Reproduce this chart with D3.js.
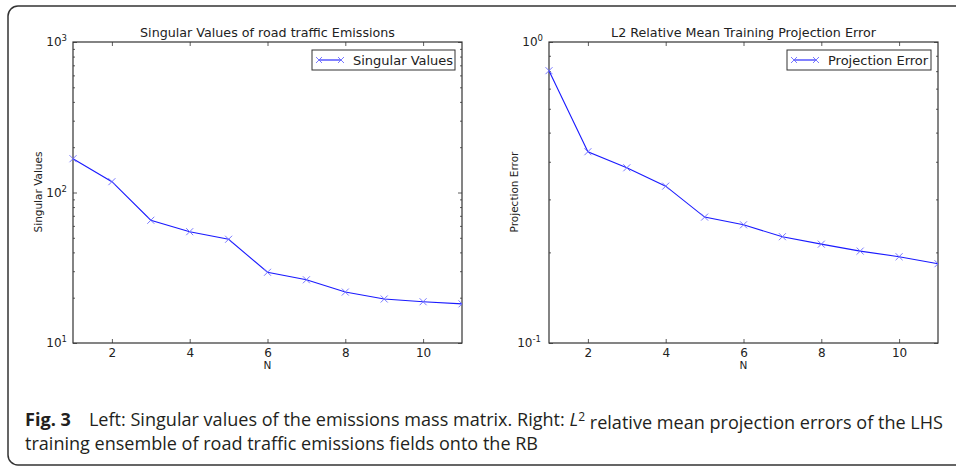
<!DOCTYPE html>
<html>
  <head>
    <script src="https://cdn.jsdelivr.net/npm/d3@7"></script>
    <style>
      body { margin: 0; background: #fff; }
      svg text { font-family: "DejaVu Sans", sans-serif; fill: #222; }
    </style>
  </head>
  <body>
    <script>

    // Data
    var nValues = [1, 2, 3, 4, 5, 6, 7, 8, 9, 10, 11];
    var singularValues = [167.7, 118, 65.4, 54.9, 48.9, 29.5, 26.3, 21.8, 19.6, 18.8, 18.2];
    var projectionError = [0.803, 0.432, 0.382, 0.332, 0.262, 0.247, 0.2255, 0.213, 0.202, 0.1935, 0.1834];
    var xTicks = [2, 4, 6, 8, 10];
    var leftMajor = [10, 100, 1000];
    var rightMajor = [0.1, 1];

    var W = 956, H = 467;
    var svg = d3.select("body").append("svg")
      .attr("width", W)
      .attr("height", H);

    // Outer frame of the figure (runs off the right edge)
    svg.append("rect")
      .attr("x", 8).attr("y", 6)
      .attr("width", 980).attr("height", 459)
      .attr("rx", 10)
      .attr("fill", "none")
      .attr("stroke", "#333")
      .attr("stroke-width", 1.5);

    // 2..9 times each decade
    function minorTicks(domain) {
      var out = [];
      for (var e = Math.round(Math.log10(domain[0])); e < Math.round(Math.log10(domain[1])); e++) {
        for (var k = 2; k <= 9; k++) out.push(k * Math.pow(10, e));
      }
      return out;
    }

    function panel(opt) {
      var x = d3.scaleLinear().domain([1, 11]).range([opt.left, opt.right]);
      var y = d3.scaleLog().domain(opt.domain).range([343, 42]);
      var g = svg.append("g");

      // Axes, ticks pointing inside like matplotlib classic
      g.append("g").attr("transform", "translate(0,343)")
        .call(d3.axisBottom(x).tickValues(xTicks).tickSize(-4).tickPadding(5).tickFormat(d3.format("d")));
      g.append("g").attr("transform", "translate(0,42)")
        .call(d3.axisTop(x).tickValues(xTicks).tickSize(-4).tickFormat(""));

      var leftAx = g.append("g").attr("transform", "translate(" + opt.left + ",0)")
        .call(d3.axisLeft(y).tickValues(opt.major).tickSize(-4).tickFormat(""));
      g.append("g").attr("transform", "translate(" + opt.left + ",0)")
        .call(d3.axisLeft(y).tickValues(minorTicks(opt.domain)).tickSize(-2).tickFormat(""));
      g.append("g").attr("transform", "translate(" + opt.right + ",0)")
        .call(d3.axisRight(y).tickValues(opt.major).tickSize(-4).tickFormat(""));
      g.append("g").attr("transform", "translate(" + opt.right + ",0)")
        .call(d3.axisRight(y).tickValues(minorTicks(opt.domain)).tickSize(-2).tickFormat(""));

      // Power-of-ten labels with superscripts
      leftAx.selectAll(".tick text").each(function(d) {
        var t = d3.select(this);
        var p = Math.round(Math.log10(d));
        t.text("10").attr("dy", "0.32em").attr("x", p < 0 ? -8 : -6);
        t.append("tspan").attr("dy", "-0.6em").attr("font-size", "8.5px").text(String(p));
      });

      g.selectAll(".domain").remove();
      g.selectAll(".tick line").attr("stroke", "#333").attr("stroke-width", 0.8);
      g.selectAll(".tick text").attr("font-size", "12px").attr("fill", "#222");

      // Plot box
      g.append("rect")
        .attr("x", opt.left).attr("y", 42)
        .attr("width", opt.right - opt.left).attr("height", 301)
        .attr("fill", "none").attr("stroke", "#333").attr("stroke-width", 1.2);

      // Line and x markers
      var clip = "clip" + opt.left;
      svg.append("clipPath").attr("id", clip).append("rect")
        .attr("x", opt.left - 5).attr("y", 42).attr("width", opt.right - opt.left + 5).attr("height", 301);

      var line = d3.line().x(function(d, i) { return x(nValues[i]); }).y(function(d) { return y(d); });
      g.append("path").datum(opt.values)
        .attr("d", line)
        .attr("fill", "none").attr("stroke", "#1a1aff").attr("stroke-width", 1.1);

      var m = g.append("g").attr("clip-path", "url(#" + clip + ")");
      m.selectAll("path.mk").data(opt.values).enter().append("path")
        .attr("class", "mk")
        .attr("d", function(d, i) {
          var cx = x(nValues[i]), cy = y(d), s = 3.5;
          return "M" + (cx - s) + "," + (cy - s) + "L" + (cx + s) + "," + (cy + s) +
                 "M" + (cx - s) + "," + (cy + s) + "L" + (cx + s) + "," + (cy - s);
        })
        .attr("stroke", "#6a6aff").attr("stroke-width", 0.9).attr("fill", "none");

      // Title and labels
      g.append("text").attr("x", (opt.left + opt.right) / 2).attr("y", 37)
        .attr("text-anchor", "middle").attr("font-size", "12.7px").text(opt.title);
      g.append("text").attr("x", (opt.left + opt.right) / 2).attr("y", 369)
        .attr("text-anchor", "middle").attr("font-size", "10.5px").text("N");
      g.append("text")
        .attr("transform", "translate(" + (opt.left - 31) + ",192)rotate(-90)")
        .attr("text-anchor", "middle").attr("font-size", "10.5px").text(opt.ylabel);

      // Legend
      var lw = opt.legendW;
      var lx = opt.right - 7 - lw;
      var lg = g.append("g").attr("transform", "translate(" + lx + ",50)");
      lg.append("rect").attr("width", lw).attr("height", 20)
        .attr("fill", "#fff").attr("stroke", "#333").attr("stroke-width", 1);
      lg.append("line").attr("x1", 7).attr("x2", 29).attr("y1", 10).attr("y2", 10)
        .attr("stroke", "#1a1aff").attr("stroke-width", 1.1);
      [7, 29].forEach(function(px) {
        lg.append("path")
          .attr("d", "M" + (px - 3) + ",7L" + (px + 3) + ",13M" + (px - 3) + ",13L" + (px + 3) + ",7")
          .attr("stroke", "#6a6aff").attr("stroke-width", 0.9);
      });
      lg.append("text").attr("x", 41).attr("y", 14.5).attr("font-size", "13px").text(opt.legend);
    }

    panel({
      left: 73, right: 462, domain: [10, 1000], major: leftMajor,
      values: singularValues,
      title: "Singular Values of road traffic Emissions",
      ylabel: "Singular Values",
      legend: "Singular Values", legendW: 143
    });

    panel({
      left: 549, right: 938, domain: [0.1, 1], major: rightMajor,
      values: projectionError,
      title: "L2 Relative Mean Training Projection Error",
      ylabel: "Projection Error",
      legend: "Projection Error", legendW: 144
    });

    // Caption
    var capFont = "'Open Sans', sans-serif";
    var l1 = svg.append("text").attr("x", 25).attr("y", 426).attr("font-size", "18px")
      .attr("textLength", 918).attr("lengthAdjust", "spacingAndGlyphs")
      .style("font-family", capFont).style("fill", "#231f20");
    l1.append("tspan").attr("font-weight", "bold").text("Fig. 3");
    l1.append("tspan").text("\u2002\u2002Left: Singular values of the emissions mass matrix. Right: ");
    l1.append("tspan").attr("font-style", "italic").text("L");
    l1.append("tspan").attr("dy", "-0.45em").attr("font-size", "12px").text("2");
    l1.append("tspan").attr("dy", "0.45em").text(" relative mean projection errors of the LHS");
    svg.append("text").attr("x", 25).attr("y", 450).attr("font-size", "18px")
      .attr("textLength", 513).attr("lengthAdjust", "spacingAndGlyphs")
      .style("font-family", capFont).style("fill", "#231f20")
      .text("training ensemble of road traffic emissions fields onto the RB");
    </script>
  </body>
</html>
